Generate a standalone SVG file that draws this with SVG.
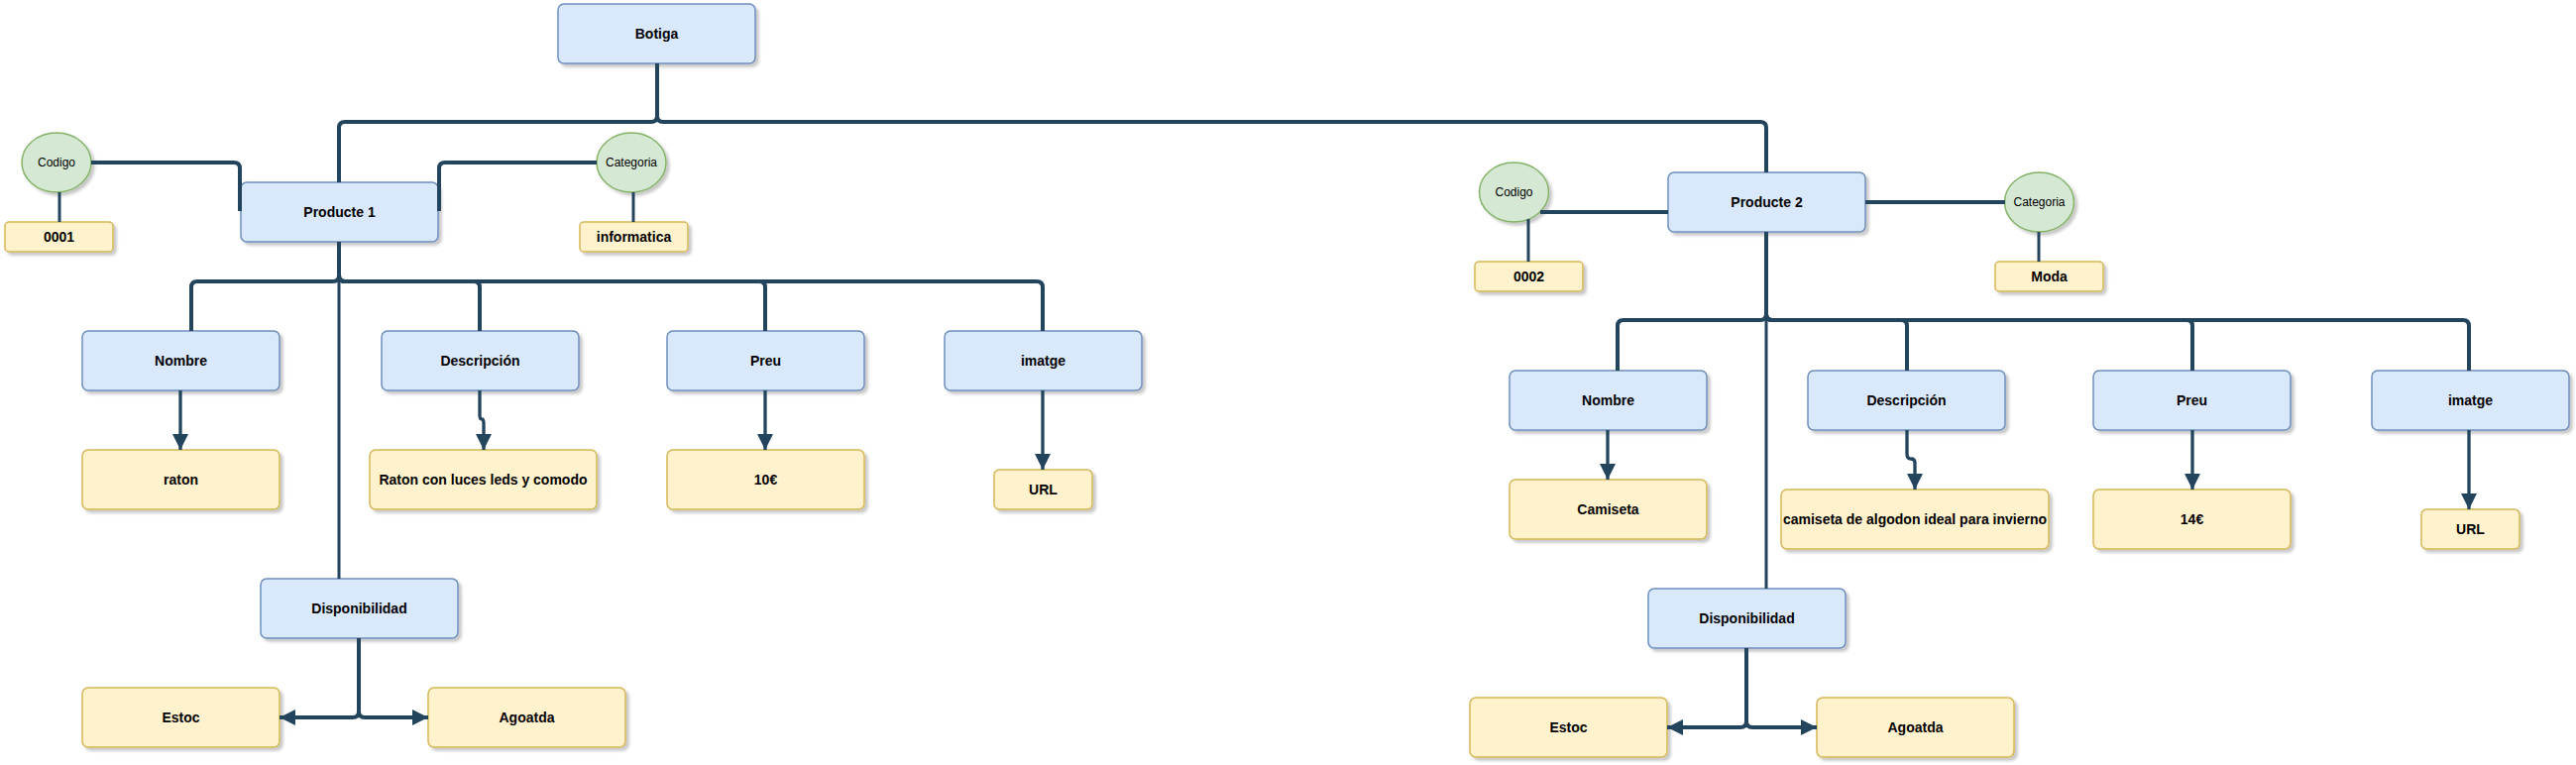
<svg xmlns="http://www.w3.org/2000/svg" width="2599" height="772" viewBox="0 0 2599 772">
<defs>
<filter id="sh" x="-10%" y="-10%" width="130%" height="140%">
<feDropShadow dx="3" dy="3" stdDeviation="1.8" flood-color="#000" flood-opacity="0.22"/>
</filter>
<marker id="ar" markerUnits="userSpaceOnUse" markerWidth="16" markerHeight="16" viewBox="0 0 16 16" refX="16" refY="8" orient="auto">
<path d="M0,0 L16,8 L0,16 Z" fill="#23445d"/>
</marker>
</defs>
<style>
.b{fill:#dae8fc;stroke:#6c8ebf;stroke-width:1.5;filter:url(#sh)}
.y{fill:#fff2cc;stroke:#d6b656;stroke-width:1.5;filter:url(#sh)}
.g{fill:#d5e8d4;stroke:#82b366;stroke-width:1.5;filter:url(#sh)}
text{font-family:"Liberation Sans",Helvetica,Arial,sans-serif;font-size:14px;font-weight:bold;fill:#000;text-anchor:middle}
text.n{font-size:12px;font-weight:normal}
.c{fill:none;stroke:#23445d;stroke-width:4;stroke-linejoin:round}
.a{fill:none;stroke:#23445d;stroke-width:3.3;marker-end:url(#ar)}
.t{fill:none;stroke:#23445d;stroke-width:3}
.h{fill:none;stroke:#23445d;stroke-width:4;marker-end:url(#ar)}
</style>
<rect width="2599" height="772" fill="#fff"/>
<g id="botiga"><rect class="b" x="563" y="4" width="199" height="60" rx="6"/><text x="662.5" y="39">Botiga</text></g>
<g id="producte1"><rect class="b" x="243" y="184" width="199" height="60" rx="6"/><text x="342.5" y="219">Producte 1</text></g>
<g id="codigo1"><ellipse class="g" cx="57" cy="164" rx="35" ry="30"/><text class="n" x="57" y="168">Codigo</text></g>
<g id="v0001"><rect class="y" x="5" y="224" width="109" height="30" rx="4"/><text x="59.5" y="244">0001</text></g>
<g id="categoria1"><ellipse class="g" cx="637" cy="164" rx="35" ry="30"/><text class="n" x="637" y="168">Categoria</text></g>
<g id="informatica"><rect class="y" x="585" y="224" width="109" height="30" rx="4"/><text x="639.5" y="244">informatica</text></g>
<g id="nombre1"><rect class="b" x="83" y="334" width="199" height="60" rx="6"/><text x="182.5" y="369">Nombre</text></g>
<g id="descripcion1"><rect class="b" x="385" y="334" width="199" height="60" rx="6"/><text x="484.5" y="369">Descripción</text></g>
<g id="preu1"><rect class="b" x="673" y="334" width="199" height="60" rx="6"/><text x="772.5" y="369">Preu</text></g>
<g id="imatge1"><rect class="b" x="953" y="334" width="199" height="60" rx="6"/><text x="1052.5" y="369">imatge</text></g>
<g id="raton"><rect class="y" x="83" y="454" width="199" height="60" rx="6"/><text x="182.5" y="489">raton</text></g>
<g id="ratondesc"><rect class="y" x="373" y="454" width="229" height="60" rx="6"/><text x="487.5" y="489">Raton con luces leds y comodo</text></g>
<g id="preuval1"><rect class="y" x="673" y="454" width="199" height="60" rx="6"/><text x="772.5" y="489">10€</text></g>
<g id="url1"><rect class="y" x="1003" y="474" width="99" height="40" rx="5"/><text x="1052.5" y="499">URL</text></g>
<g id="disponibilidad1"><rect class="b" x="263" y="584" width="199" height="60" rx="6"/><text x="362.5" y="619">Disponibilidad</text></g>
<g id="estoc1"><rect class="y" x="83" y="694" width="199" height="60" rx="6"/><text x="182.5" y="729">Estoc</text></g>
<g id="agoatda1"><rect class="y" x="432" y="694" width="199" height="60" rx="6"/><text x="531.5" y="729">Agoatda</text></g>
<g id="producte2"><rect class="b" x="1683" y="174" width="199" height="60" rx="6"/><text x="1782.5" y="209">Producte 2</text></g>
<g id="codigo2"><ellipse class="g" cx="1527.5" cy="194" rx="35" ry="30"/><text class="n" x="1527.5" y="198">Codigo</text></g>
<g id="v0002"><rect class="y" x="1488" y="264" width="109" height="30" rx="4"/><text x="1542.5" y="284">0002</text></g>
<g id="categoria2"><ellipse class="g" cx="2057.5" cy="204" rx="35" ry="30"/><text class="n" x="2057.5" y="208">Categoria</text></g>
<g id="moda"><rect class="y" x="2013" y="264" width="109" height="30" rx="4"/><text x="2067.5" y="284">Moda</text></g>
<g id="nombre2"><rect class="b" x="1523" y="374" width="199" height="60" rx="6"/><text x="1622.5" y="409">Nombre</text></g>
<g id="descripcion2"><rect class="b" x="1824" y="374" width="199" height="60" rx="6"/><text x="1923.5" y="409">Descripción</text></g>
<g id="preu2"><rect class="b" x="2112" y="374" width="199" height="60" rx="6"/><text x="2211.5" y="409">Preu</text></g>
<g id="imatge2"><rect class="b" x="2393" y="374" width="199" height="60" rx="6"/><text x="2492.5" y="409">imatge</text></g>
<g id="camiseta"><rect class="y" x="1523" y="484" width="199" height="60" rx="6"/><text x="1622.5" y="519">Camiseta</text></g>
<g id="camisetadesc"><rect class="y" x="1797" y="494" width="270" height="60" rx="6"/><text x="1932" y="529">camiseta de algodon ideal para invierno</text></g>
<g id="preuval2"><rect class="y" x="2112" y="494" width="199" height="60" rx="6"/><text x="2211.5" y="529">14€</text></g>
<g id="url2"><rect class="y" x="2443" y="514" width="99" height="40" rx="5"/><text x="2492.5" y="539">URL</text></g>
<g id="disponibilidad2"><rect class="b" x="1663" y="594" width="199" height="60" rx="6"/><text x="1762.5" y="629">Disponibilidad</text></g>
<g id="estoc2"><rect class="y" x="1483" y="704" width="199" height="60" rx="6"/><text x="1582.5" y="739">Estoc</text></g>
<g id="agoatda2"><rect class="y" x="1833" y="704" width="199" height="60" rx="6"/><text x="1932.5" y="739">Agoatda</text></g>
<g id="connectors">
<path class="c" d="M663,64 V117 Q663,123 657,123 H348 Q342,123 342,129 V184"/>
<path class="c" d="M663,64 V117 Q663,123 669,123 H1776 Q1782,123 1782,129 V174"/>
<path class="c" d="M92,164 H236 Q242,164 242,170 V213"/>
<path class="c" d="M602,164 H449 Q443,164 443,170 V213"/>
<path class="t" d="M60,194 V224"/>
<path class="t" d="M639,194 V224"/>
<path class="c" d="M342,244 V278 Q342,284 336,284 H199 Q193,284 193,290 V334"/>
<path class="c" d="M342,244 V278 Q342,284 348,284 H478 Q484,284 484,290 V334"/>
<path class="c" d="M342,244 V278 Q342,284 348,284 H766 Q772,284 772,290 V334"/>
<path class="c" d="M342,244 V278 Q342,284 348,284 H1046 Q1052,284 1052,290 V334"/>
<path class="t" d="M342,244 V584"/>
<path class="a" d="M182,394 V454"/>
<path class="a" d="M484,394 V419 Q484,423 486,423 Q488,423 488,427 V454"/>
<path class="a" d="M772,394 V454"/>
<path class="a" d="M1052,394 V474"/>
<path class="h" d="M362,644 V718 Q362,724 356,724 H282"/>
<path class="h" d="M362,644 V718 Q362,724 368,724 H432"/>
<path class="c" d="M1554,214 H1683"/>
<path class="t" d="M1542,221 V264"/>
<path class="c" d="M1882,204 H2023"/>
<path class="t" d="M2057,234 V264"/>
<path class="c" d="M1782,234 V317 Q1782,323 1776,323 H1638 Q1632,323 1632,329 V374"/>
<path class="c" d="M1782,234 V317 Q1782,323 1788,323 H1918 Q1924,323 1924,329 V374"/>
<path class="c" d="M1782,234 V317 Q1782,323 1788,323 H2206 Q2212,323 2212,329 V374"/>
<path class="c" d="M1782,234 V317 Q1782,323 1788,323 H2485 Q2491,323 2491,329 V374"/>
<path class="t" d="M1782,234 V594"/>
<path class="a" d="M1622,434 V484"/>
<path class="a" d="M1924,434 V458 Q1924,463 1928,463 Q1932,463 1932,467 V494"/>
<path class="a" d="M2212,434 V494"/>
<path class="a" d="M2491,434 V514"/>
<path class="h" d="M1762,654 V728 Q1762,734 1756,734 H1682"/>
<path class="h" d="M1762,654 V728 Q1762,734 1768,734 H1833"/>
</g>
</svg>
